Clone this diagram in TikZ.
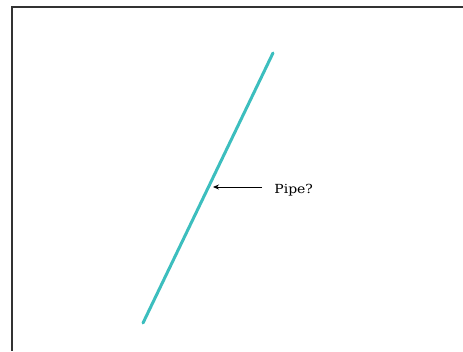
\documentclass[tikz,border=0pt]{standalone}
\usepackage{fontspec}
\setmainfont{DejaVu Serif}
\usetikzlibrary{arrows.meta}
\definecolor{pipecol}{RGB}{60,190,190}
\tikzset{
  frame/.style={draw=black!80, line width=1.6pt},
  pipe/.style={draw=pipecol, line width=3pt},
  pointer/.style={draw=black, line width=0.8pt, -{Stealth[length=6pt,width=5pt]}},
  lbl/.style={font=\fontsize{12.5}{14}\selectfont, inner sep=1pt, anchor=west, xscale=1.12}
}
\begin{document}
\begin{tikzpicture}[x=1pt,y=-1pt]
\useasboundingbox (0,0) rectangle (463,351);
\coordinate (ftr) at (463,7);
\coordinate (ftl) at (12,7);
\coordinate (fbl) at (12,351);
\draw[frame] (ftr) -- (ftl) -- (fbl);
\coordinate (ptop) at (273,53);
\coordinate (pbot) at (143,323);
\draw[pipe, line cap=round] (ptop) -- (pbot);
\node[lbl] (txt) at (273,190) {Pipe?};
\coordinate (tip) at (213,187);
\coordinate (tail) at (262,187);
\draw[pointer] (tail) -- (tip);
\end{tikzpicture}
\end{document}
